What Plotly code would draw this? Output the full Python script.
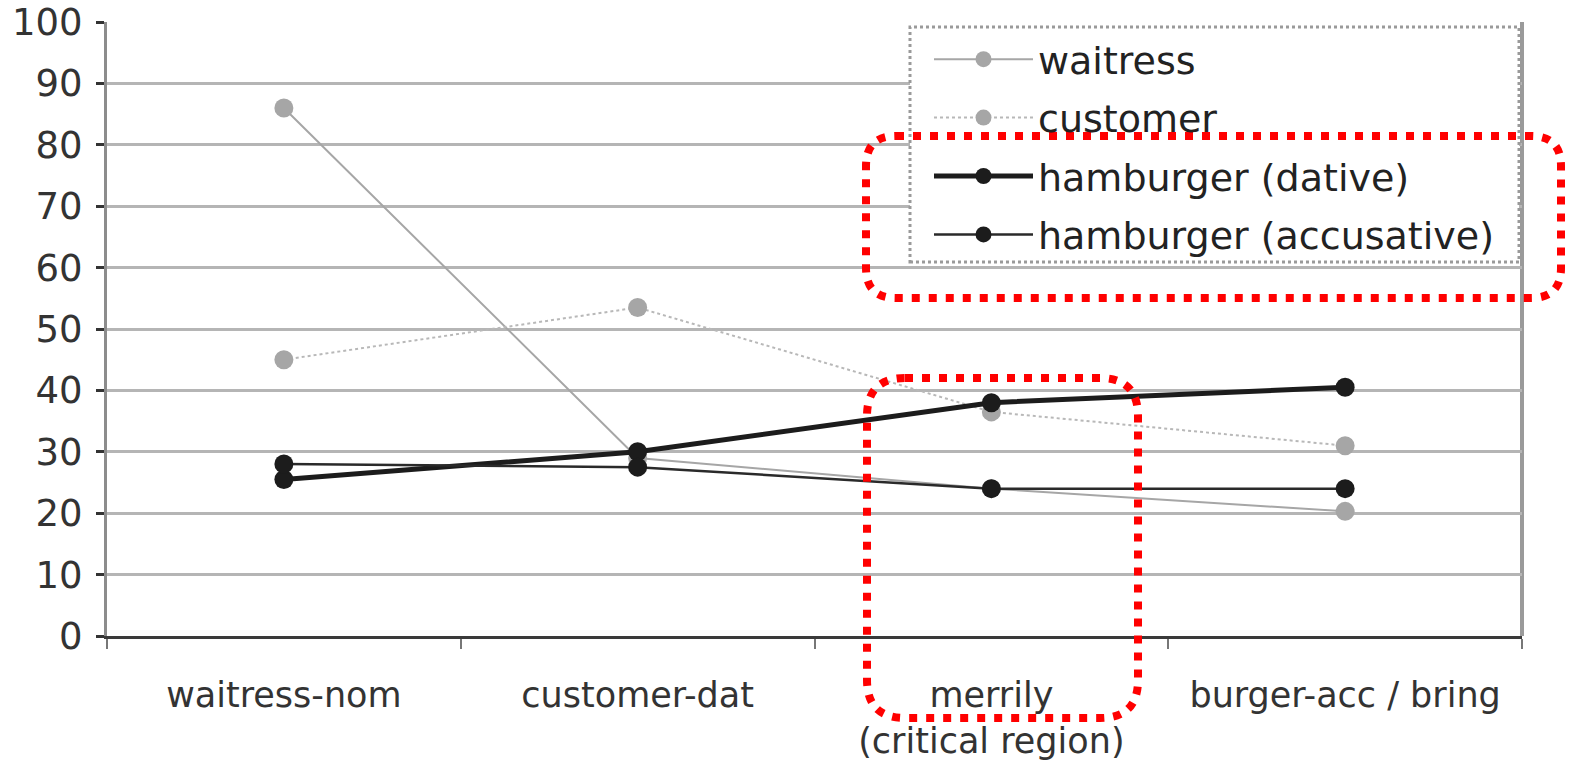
import plotly.graph_objects as go

# Reading times per sentence region
regions = ["waitress-nom", "customer-dat", "merrily<br>(critical region)", "burger-acc / bring"]
waitress = [86, 29, 24, 20.3]
customer = [45, 53.5, 36.5, 31]
hamburger_dative = [25.5, 30, 38, 40.5]
hamburger_accusative = [28, 27.5, 24, 24]

W, H = 1575, 761
L, R, T, B = 107, 1522, 22, 636  # plot area in pixels

FONT = "DejaVu Sans, Verdana, sans-serif"
TEXT = "#333333"
GREY = "#a6a6a6"
BLACK = "#1c1c1c"


def px_x(x):
    return (x - L) / (R - L)


def px_y(y):
    return (B - y) / (B - T)


def rounded_rect(x0, y0, x1, y1, r):
    """SVG path (paper coords) of a rounded rectangle given in pixels."""
    pts = [
        f"M {px_x(x0 + r)},{px_y(y0)}",
        f"L {px_x(x1 - r)},{px_y(y0)}",
        f"Q {px_x(x1)},{px_y(y0)} {px_x(x1)},{px_y(y0 + r)}",
        f"L {px_x(x1)},{px_y(y1 - r)}",
        f"Q {px_x(x1)},{px_y(y1)} {px_x(x1 - r)},{px_y(y1)}",
        f"L {px_x(x0 + r)},{px_y(y1)}",
        f"Q {px_x(x0)},{px_y(y1)} {px_x(x0)},{px_y(y1 - r)}",
        f"L {px_x(x0)},{px_y(y0 + r)}",
        f"Q {px_x(x0)},{px_y(y0)} {px_x(x0 + r)},{px_y(y0)}",
        "Z",
    ]
    return " ".join(pts)


fig = go.Figure()

series = [
    ("waitress", waitress, dict(color=GREY, width=2, dash="solid"), GREY),
    ("customer", customer, dict(color="#b8b8b8", width=2, dash="dot"), GREY),
    ("hamburger (dative)", hamburger_dative, dict(color=BLACK, width=5), BLACK),
    ("hamburger (accusative)", hamburger_accusative, dict(color="#2a2a2a", width=2.5), BLACK),
]
for i, (name, vals, line, mcol) in enumerate(series):
    fig.add_trace(go.Scatter(
        x=regions, y=vals, name=name, mode="lines+markers",
        line=line, marker=dict(size=19, color=mcol),
        legendgroup=f"g{i}",
    ))

shapes = [
    # legend frame
    dict(type="rect", xref="paper", yref="paper",
         x0=px_x(910), x1=px_x(1519), y0=px_y(262), y1=px_y(27),
         fillcolor="white", line=dict(color="#9a9a9a", width=3, dash="dot"),
         layer="above"),
    # highlight around the hamburger entries
    dict(type="path", xref="paper", yref="paper",
         path=rounded_rect(866, 136, 1561, 298, 30),
         line=dict(color="#ff0000", width=8, dash="8px,9px"), layer="above"),
    # highlight around the critical region
    dict(type="path", xref="paper", yref="paper",
         path=rounded_rect(867, 378, 1138, 718, 38),
         line=dict(color="#ff0000", width=8, dash="8px,9px"), layer="above"),
]

fig.update_layout(
    width=W, height=H,
    margin=dict(l=L, r=W - R, t=T, b=H - B, autoexpand=False),
    paper_bgcolor="white", plot_bgcolor="white",
    font=dict(family=FONT, color=TEXT, size=35),
    showlegend=True,
    legend=dict(
        x=px_x(929), y=px_y(28), xanchor="left", yanchor="top",
        bgcolor="rgba(0,0,0,0)", borderwidth=0,
        font=dict(size=38, color="#222222", family=FONT),
        tracegroupgap=6, itemwidth=99,
    ),
    shapes=shapes,
    xaxis=dict(
        type="category", range=[-0.5, 3.5], automargin=False,
        showgrid=False, showline=True, linecolor="#3a3a3a", linewidth=3,
        ticks="outside", tickson="boundaries", ticklen=10, tickwidth=2,
        tickcolor="#777777", tickfont=dict(size=35, color=TEXT),
        ticklabelstandoff=26, mirror=False,
    ),
    yaxis=dict(
        range=[0, 100], tickvals=list(range(0, 101, 10)), automargin=False,
        showgrid=True, gridcolor="#b5b5b5", gridwidth=3,
        showline=True, linecolor="#8c8c8c", linewidth=3,
        ticks="outside", ticklen=8, tickwidth=3, tickcolor="#333333",
        tickfont=dict(size=37, color=TEXT), ticklabelstandoff=6,
        zeroline=False,
    ),
)

# right border of the plot frame
fig.add_shape(type="line", xref="paper", yref="paper", x0=1, x1=1, y0=0, y1=1,
              line=dict(color="#9a9a9a", width=4), layer="below")

fig.write_html("out.html")
